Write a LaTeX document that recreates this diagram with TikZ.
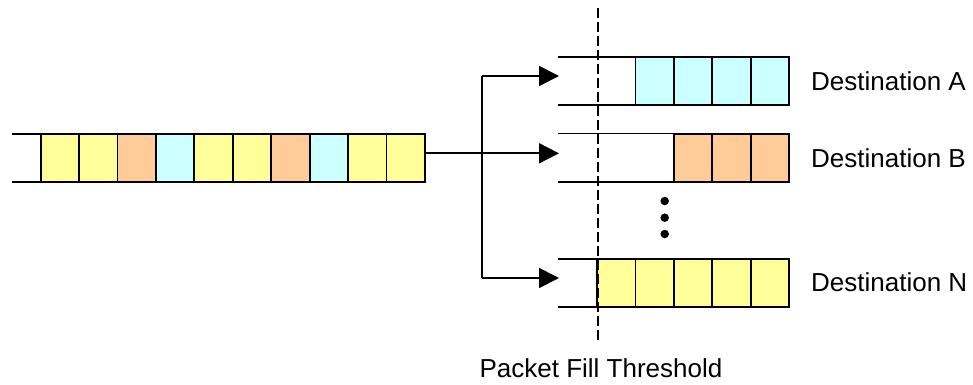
\documentclass[tikz,border=0pt]{standalone}
\usepackage{fontspec}
\setmainfont{Liberation Sans}
\usetikzlibrary{arrows.meta}
\definecolor{pktY}{HTML}{FFFF99}
\definecolor{pktO}{HTML}{FFCC99}
\definecolor{pktC}{HTML}{CCFFFF}
\tikzset{
  cell/.style={draw=black, line width=1.8pt, minimum width=38.4pt, minimum height=48pt,
    inner sep=0pt, outer sep=0pt, anchor=west},
  rail/.style={line width=1.8pt},
  feed/.style={line width=1.8pt, -{Triangle[length=20pt,width=20pt]}},
  label/.style={font=\fontsize{26}{30}\selectfont, inner sep=0pt, anchor=base west},
  dot/.style={circle, fill=black, inner sep=0pt, minimum size=8.5pt},
}
\begin{document}
\begin{tikzpicture}[x=1pt, y=-1pt]
\useasboundingbox (0,0) rectangle (973,384);

% incoming queue
\draw[rail] (11.7,134) -- (425,134);
\draw[rail] (11.7,182) -- (425,182);
\foreach \c [count=\i] in {pktY,pktY,pktO,pktC,pktY,pktY,pktO,pktC,pktY,pktY}
  \node[cell, fill=\c] (q\i) at ({40.7+(\i-1)*38.43},158) {};

% destination queue A
\draw[rail] (558,56.7) -- (789,56.7);
\draw[rail] (558,105) -- (789,105);
\foreach \i in {1,...,4}
  \node[cell, fill=pktC] (a\i) at ({635.4+(\i-1)*38.4},80.85) {};

% destination queue B
\draw[rail] (558,133.5) -- (789,133.5);
\draw[rail] (558,181.7) -- (789,181.7);
\foreach \i in {1,...,3}
  \node[cell, fill=pktO] (b\i) at ({673.8+(\i-1)*38.4},157.6) {};

% destination queue N
\draw[rail] (558,259) -- (789,259);
\draw[rail] (558,307) -- (789,307);
\foreach \i in {1,...,5}
  \node[cell, fill=pktY] (n\i) at ({597+(\i-1)*38.4},283) {};

% ellipsis between B and N
\node[dot] (d1) at (664.7,201) {};
\node[dot] (d2) at (664.7,217.7) {};
\node[dot] (d3) at (664.7,234) {};

% threshold marker
\coordinate (thTop) at (597.7,8);
\coordinate (thBot) at (597.7,343);
\draw[line width=1.6pt, dash pattern=on 10pt off 4pt] (thTop) -- (thBot);
\node[label, anchor=base] (th) at (601,377) {Packet Fill Threshold};

% distribution arrows
\coordinate (forkA) at (482,76);
\coordinate (forkN) at (482,278);
\coordinate (inA) at (559,76);
\coordinate (inB) at (559,153.3);
\coordinate (inN) at (559,278);
\draw[rail] (forkA) -- (forkN);
\draw[feed] (q10.east |- inB) -- (inB);
\draw[feed] (forkA) -- (inA);
\draw[feed] (forkN) -- (inN);

% labels
\node[label] (la) at (811,90) {Destination A};
\node[label] (lb) at (811,167) {Destination B};
\node[label] (ln) at (811,291.5) {Destination N};
\end{tikzpicture}
\end{document}
